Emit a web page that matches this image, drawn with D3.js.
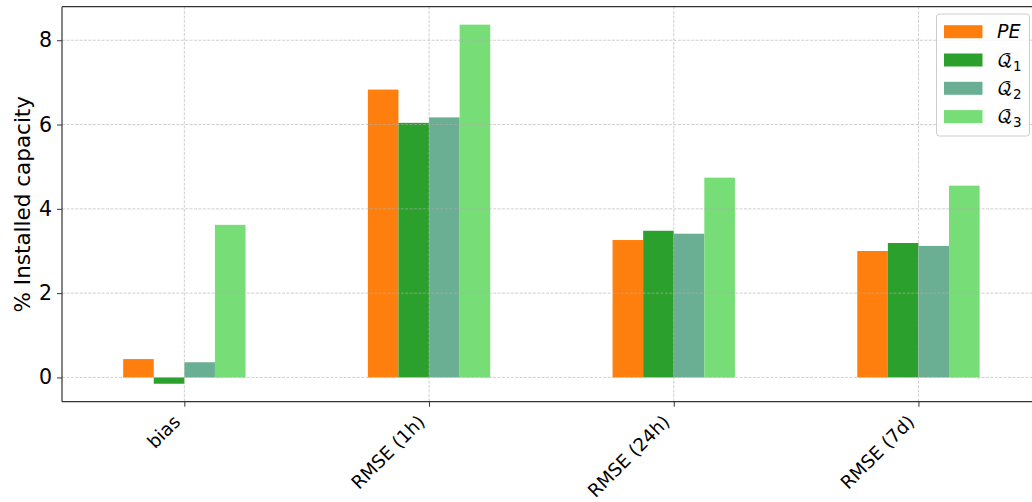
<!DOCTYPE html>
<html>
<head>
<meta charset="utf-8">
<script src="https://cdn.jsdelivr.net/npm/d3@7"></script>
<style>
  html, body { margin: 0; padding: 0; background: #fff; }
  svg { display: block; font-family: "DejaVu Sans", sans-serif; }
</style>
</head>
<body>
<svg id="chart" width="1032" height="502"></svg>
<script>
const categories = ["bias", "RMSE (1h)", "RMSE (24h)", "RMSE (7d)"];
const seriesNames = ["PE", "Q1", "Q2", "Q3"];
const PE = [0.435, 6.83, 3.26, 3.00];
const Q1 = [-0.15, 6.04, 3.48, 3.19];
const Q2 = [0.36, 6.17, 3.41, 3.12];
const Q3 = [3.62, 8.37, 4.74, 4.55];
const seriesValues = [PE, Q1, Q2, Q3];
const colors = ["#ff7f0e", "#2ca02c", "#6aae93", "#77dd77"];
const yTicks = [0, 2, 4, 6, 8];

const svg = d3.select("#chart");
const mLeft = 62, mTop = 6.7, mBottom = 401.7, rightFull = 1040.8;

const x = d3.scaleLinear().domain([-0.5, categories.length - 0.5]).range([mLeft, rightFull]);
const y = d3.scaleLinear().domain([-0.576, 8.796]).range([mBottom, mTop]);
const barW = 0.125;

// bars
seriesValues.forEach((vals, si) => {
  svg.append("g").selectAll("rect").data(vals).join("rect")
    .attr("x", (d, i) => x(i + (si - 2) * barW))
    .attr("width", x(barW) - x(0))
    .attr("y", d => y(Math.max(0, d)))
    .attr("height", d => Math.abs(y(d) - y(0)))
    .attr("fill", colors[si]);
});

// grid (drawn over bars)
const grid = svg.append("g").attr("stroke", "#b0b0b0").attr("stroke-width", 0.8)
  .attr("stroke-dasharray", "3,1.4").attr("opacity", 0.75);
grid.selectAll("line.h").data(yTicks).join("line").attr("class", "h")
  .attr("x1", mLeft).attr("x2", 1032).attr("y1", d => y(d)).attr("y2", d => y(d));
grid.selectAll("line.v").data(categories).join("line").attr("class", "v")
  .attr("x1", (d, i) => x(i)).attr("x2", (d, i) => x(i)).attr("y1", mTop).attr("y2", mBottom);

// axes
const yAxis = d3.axisLeft(y).tickValues(yTicks).tickSize(5).tickPadding(5).tickFormat(d3.format("d"));
const gy = svg.append("g").attr("transform", `translate(${mLeft},0)`).call(yAxis);
gy.select(".domain").remove();
gy.selectAll("text").attr("font-size", 20.5).attr("fill", "#000").attr("font-family", "DejaVu Sans");
gy.selectAll("line").attr("stroke", "#333").attr("stroke-width", 1);

const xAxis = d3.axisBottom(x).tickValues(d3.range(categories.length)).tickSize(5).tickFormat(i => categories[i]);
const gx = svg.append("g").attr("transform", `translate(0,${mBottom})`).call(xAxis);
gx.select(".domain").remove();
gx.selectAll("line").attr("stroke", "#333").attr("stroke-width", 1);
gx.selectAll("text")
  .attr("font-size", 18.3).attr("fill", "#000").attr("font-family", "DejaVu Sans")
  .attr("text-anchor", "end")
  .attr("dy", "0.35em")
  .attr("transform", `translate(-8,${418.5 - mBottom}) rotate(-45)`)
  .attr("y", 0).attr("x", 0);
// spines
svg.append("line").attr("x1", mLeft).attr("x2", mLeft).attr("y1", mTop).attr("y2", mBottom)
  .attr("stroke", "#333").attr("stroke-width", 1.2);
svg.append("line").attr("x1", mLeft).attr("x2", 1032).attr("y1", mTop).attr("y2", mTop)
  .attr("stroke", "#333").attr("stroke-width", 1.2);
svg.append("line").attr("x1", mLeft).attr("x2", 1032).attr("y1", mBottom).attr("y2", mBottom)
  .attr("stroke", "#333").attr("stroke-width", 1.2);

// y label
svg.append("text").attr("transform", `translate(30,${(mTop + mBottom) / 2}) rotate(-90)`)
  .attr("text-anchor", "middle").attr("font-size", 21.5).attr("fill", "#000")
  .text("% Installed capacity");

// legend
const lg = svg.append("g");
lg.append("rect").attr("x", 936.5).attr("y", 14).attr("width", 93).attr("height", 122)
  .attr("rx", 3).attr("fill", "#fff").attr("fill-opacity", 0.8).attr("stroke", "#cccccc");
seriesNames.forEach((name, i) => {
  const cy = 31.7 + i * 28.3;
  lg.append("rect").attr("x", 944).attr("y", cy - 6.5).attr("width", 38.5).attr("height", 13).attr("fill", colors[i]);
  const t = lg.append("text").attr("x", 997).attr("y", cy).attr("dy", "0.35em").attr("font-size", 19).attr("fill", "#000");
  if (name === "PE") {
    t.attr("font-style", "italic").text("PE");
  } else {
    t.append("tspan").attr("font-family", "'DejaVu Math TeX Gyre', 'DejaVu Sans'").text("\u{1D4AC}");
    t.append("tspan").attr("font-size", 13.5).attr("dy", "0.3em").text(name.slice(1));
  }
});
</script>
</body>
</html>
